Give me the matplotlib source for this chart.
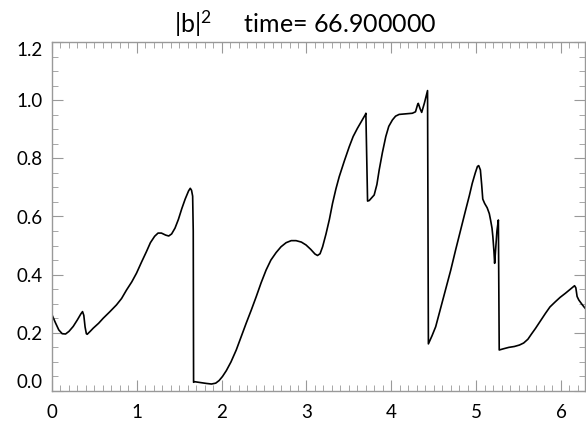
import matplotlib.pyplot as plt
from matplotlib.ticker import MultipleLocator
import numpy as np

# values
x = [0.0, 0.04, 0.08, 0.12, 0.16, 0.2, 0.25, 0.3, 0.34, 0.36, 0.375, 0.39,
     0.405, 0.415, 0.45, 0.486, 0.55, 0.603, 0.68, 0.76, 0.82, 0.878, 0.94,
     0.996, 1.055, 1.113, 1.16, 1.21, 1.25, 1.29, 1.34, 1.376, 1.41, 1.45,
     1.49, 1.53, 1.57, 1.61, 1.63, 1.645, 1.658, 1.665, 1.669,
     1.68, 1.75, 1.82, 1.88, 1.93, 1.97, 2.01, 2.055, 2.11, 2.172, 2.23,
     2.289, 2.35, 2.407, 2.465, 2.524, 2.58, 2.642, 2.7, 2.76, 2.82, 2.877,
     2.94, 2.995, 3.05, 3.1, 3.13, 3.16, 3.19, 3.23, 3.27, 3.307, 3.347,
     3.386, 3.445, 3.504, 3.55, 3.6, 3.65, 3.695, 3.70, 3.72, 3.74, 3.798,
     3.83, 3.857, 3.895, 3.935, 3.97, 4.013, 4.05, 4.092, 4.17, 4.248, 4.285,
     4.31, 4.318, 4.34, 4.358, 4.39, 4.427, 4.437,
     4.48, 4.523, 4.58, 4.64, 4.7, 4.758, 4.818, 4.876, 4.92, 4.954, 4.99,
     5.015, 5.03, 5.05, 5.065, 5.078, 5.1, 5.13, 5.155, 5.17, 5.187, 5.197,
     5.21, 5.218, 5.228, 5.245, 5.262, 5.272,
     5.32, 5.385, 5.45, 5.51, 5.56, 5.61, 5.65, 5.699, 5.76, 5.817, 5.87,
     5.934, 5.99, 6.052, 6.11, 6.16, 6.175, 6.19, 6.21, 6.25, 6.283]
y = [0.262, 0.235, 0.21, 0.197, 0.196, 0.205, 0.222, 0.245, 0.265, 0.273,
     0.26, 0.22, 0.197, 0.195, 0.205, 0.216, 0.233, 0.25, 0.272, 0.296,
     0.318, 0.347, 0.375, 0.405, 0.443, 0.479, 0.51, 0.532, 0.543, 0.543,
     0.536, 0.533, 0.54, 0.56, 0.59, 0.627, 0.66, 0.688, 0.697, 0.69, 0.67,
     0.55, 0.03,
     0.032, 0.029, 0.026, 0.024, 0.027, 0.036, 0.05, 0.07, 0.1, 0.141, 0.187,
     0.233, 0.279, 0.324, 0.372, 0.416, 0.45, 0.476, 0.496, 0.51, 0.517,
     0.517, 0.512, 0.502, 0.487, 0.471, 0.466, 0.472, 0.496, 0.54, 0.59,
     0.645, 0.695, 0.737, 0.79, 0.84, 0.875, 0.903, 0.928, 0.951, 0.955,
     0.653, 0.655, 0.674, 0.71, 0.76, 0.82, 0.875, 0.91, 0.932, 0.945, 0.951,
     0.953, 0.955, 0.96, 0.985, 0.989, 0.97, 0.958, 0.99, 1.033, 0.162,
     0.19, 0.221, 0.283, 0.347, 0.415, 0.485, 0.555, 0.622, 0.672, 0.714,
     0.75, 0.772, 0.775, 0.76, 0.71, 0.66, 0.645, 0.63, 0.61, 0.588, 0.56,
     0.531, 0.48, 0.439, 0.48, 0.55, 0.588, 0.141,
     0.145, 0.15, 0.153, 0.158, 0.165, 0.178, 0.195, 0.215, 0.242, 0.267,
     0.289, 0.307, 0.322, 0.336, 0.35, 0.362, 0.355, 0.325, 0.313, 0.297,
     0.285]

plt.rcParams['font.family'] = ['Lato', 'DejaVu Sans']
plt.rcParams['mathtext.fontset'] = 'custom'
plt.rcParams['mathtext.rm'] = 'Lato'
plt.rcParams['mathtext.it'] = 'Lato'

fig = plt.figure(figsize=(5.86, 4.23), dpi=100)
ax = fig.add_axes([52 / 586, 32 / 423, 533 / 586, 349 / 423])
ax.plot(x, y, color='black', lw=1.2)

ymin, ymax = 0.0, 1.2
ax.set_xlim(0, 2 * np.pi)
ax.set_ylim(ymin, ymax)
ax.xaxis.set_major_locator(MultipleLocator(1))
ax.xaxis.set_minor_locator(MultipleLocator(0.1))
ax.yaxis.set_major_locator(MultipleLocator(0.2))
ax.yaxis.set_minor_locator(MultipleLocator(0.05))
# end labels are drawn by hand below, shifted inside the axis range
ax.yaxis.set_major_formatter(
    lambda v, p: "" if abs(v - ymin) < 1e-6 or abs(v - ymax) < 1e-6 else f"{v:.1f}")

for s in ax.spines.values():
    s.set_color('#999999')
    s.set_linewidth(1.0)
ax.tick_params(which='both', direction='in', top=True, right=True,
               color='#999999', labelsize=13.5, pad=7)
ax.tick_params(axis='x', pad=9)
ax.tick_params(which='major', length=8)
ax.tick_params(which='minor', length=4)

for v, va in [(ymin, 'bottom'), (ymax, 'top')]:
    ax.annotate(f"{v:.1f}", xy=(0, v), xycoords=('axes fraction', 'data'),
                xytext=(-7, 0), textcoords='offset points',
                ha='right', va=va, fontsize=13.5)

ax.set_title(r"$\mathrm{|b|}^2$" + "     time= 66.900000", fontsize=18,
             pad=7, x=0.475)

fig.savefig('out.png', dpi=100)
